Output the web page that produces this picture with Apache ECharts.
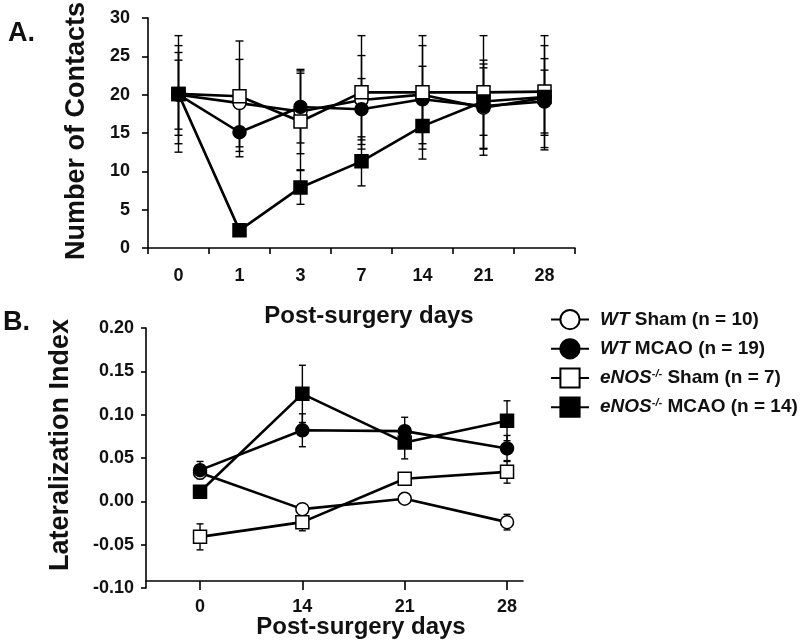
<!DOCTYPE html>
<html><head><meta charset="utf-8">
<script src="https://cdn.jsdelivr.net/npm/echarts@6/dist/echarts.min.js"></script>
<style>html,body{margin:0;padding:0;background:#fff}#c{width:800px;height:642px}</style>
</head><body><div id="c"></div>
<script>
const FONT = "'Liberation Sans', Arial, Helvetica, sans-serif";

// ---- Panel A: Number of contacts ----
const daysA = ['0', '1', '3', '7', '14', '21', '28'];
const wtShamA       = [20.0, 18.9, 17.8, 19.3, 20.0, 18.3, 19.6];
const wtShamAErr    = [6.4, 5.7, 5.5, 5.8, 6.4, 6.2, 6.8];
const wtMcaoA       = [20.0, 15.1, 18.4, 18.1, 19.4, 18.5, 19.1];
const wtMcaoAErr    = [4.5, 3.2, 4.7, 4.0, 4.3, 5.5, 4.1];
const enosShamA     = [20.1, 19.8, 16.5, 20.3, 20.3, 20.3, 20.4];
const enosShamAErr  = [7.6, 7.2, 6.3, 7.4, 7.4, 7.4, 7.3];
const enosMcaoA     = [20.1, 2.3, 7.9, 11.3, 15.9, 19.1, 19.7];
const enosMcaoAErr  = [5.4, 0.5, 2.2, 3.2, 4.3, 4.4, 5.0];
const yTicksA = { min: 0, max: 30, interval: 5 };

// ---- Panel B: Lateralization index ----
const daysB = ['0', '14', '21', '28'];
const wtShamB       = [0.033, -0.009, 0.003, -0.024];
const wtShamBErr    = [0.005, 0.004, 0.004, 0.009];
const wtMcaoB       = [0.036, 0.082, 0.081, 0.061];
const wtMcaoBErr    = [0.010, 0.019, 0.016, 0.015];
const enosShamB     = [-0.041, -0.024, 0.026, 0.034];
const enosShamBErr  = [0.015, 0.010, 0.006, 0.013];
const enosMcaoB     = [0.011, 0.124, 0.068, 0.093];
const enosMcaoBErr  = [0.004, 0.033, 0.019, 0.023];
const yTicksB = { min: -0.10, max: 0.20, interval: 0.05 };

const groupNames = ['WT Sham (n = 10)', 'WT MCAO (n = 19)', 'eNOS-/- Sham (n = 7)', 'eNOS-/- MCAO (n = 14)'];
const legendRich = {
  'WT Sham (n = 10)': '{it|WT}{t| Sham (n = 10)}',
  'WT MCAO (n = 19)': '{it|WT}{t| MCAO (n = 19)}',
  'eNOS-/- Sham (n = 7)': '{it|eNOS}{sup|-/-}{t| Sham (n = 7)}',
  'eNOS-/- MCAO (n = 14)': '{it|eNOS}{sup|-/-}{t| MCAO (n = 14)}'
};

const groupStyles = [
  { symbol: 'circle', fill: '#ffffff' },
  { symbol: 'circle', fill: '#000000' },
  { symbol: 'rect', fill: '#ffffff' },
  { symbol: 'rect', fill: '#000000' }
];
const seriesA = [[wtShamA, wtShamAErr], [wtMcaoA, wtMcaoAErr], [enosShamA, enosShamAErr], [enosMcaoA, enosMcaoAErr]];
const seriesB = [[wtShamB, wtShamBErr], [wtMcaoB, wtMcaoBErr], [enosShamB, enosShamBErr], [enosMcaoB, enosMcaoBErr]];

function makeErrRender(cap) {
  return function (params, api) {
    const x = api.value(0), y = api.value(1), e = api.value(2);
    const hi = api.coord([x, y + e]);
    const lo = api.coord([x, y - e]);
    const st = { stroke: '#000', lineWidth: 1.4 };
    return {
      type: 'group',
      children: [
        { type: 'line', shape: { x1: hi[0], y1: hi[1], x2: lo[0], y2: lo[1] }, style: st },
        { type: 'line', shape: { x1: hi[0] - cap, y1: hi[1], x2: hi[0] + cap, y2: hi[1] }, style: st },
        { type: 'line', shape: { x1: lo[0] - cap, y1: lo[1], x2: lo[0] + cap, y2: lo[1] }, style: st }
      ]
    };
  };
}

const series = [];
seriesA.forEach((s, k) => {
  series.push({
    type: 'custom', xAxisIndex: 0, yAxisIndex: 0, z: 1, silent: true,
    renderItem: makeErrRender(4),
    data: daysA.map((d, i) => [i, s[0][i], s[1][i]])
  });
});
seriesB.forEach((s, k) => {
  series.push({
    type: 'custom', xAxisIndex: 1, yAxisIndex: 1, z: 1, silent: true,
    renderItem: makeErrRender(3.5),
    data: daysB.map((d, i) => [i, s[0][i], s[1][i]])
  });
});
seriesA.forEach((s, k) => {
  series.push({
    name: groupNames[k], type: 'line', xAxisIndex: 0, yAxisIndex: 0, z: 3,
    symbol: groupStyles[k].symbol, symbolSize: 13, showAllSymbol: true,
    lineStyle: { color: '#000', width: 2.6 },
    itemStyle: { color: groupStyles[k].fill, borderColor: '#000', borderWidth: 1.5 },
    animation: false,
    data: s[0]
  });
});
seriesB.forEach((s, k) => {
  series.push({
    name: groupNames[k], type: 'line', xAxisIndex: 1, yAxisIndex: 1, z: 3,
    symbol: groupStyles[k].symbol, symbolSize: 13, showAllSymbol: true,
    lineStyle: { color: '#000', width: 2.6 },
    itemStyle: { color: groupStyles[k].fill, borderColor: '#000', borderWidth: 1.5 },
    animation: false,
    data: daysB.map((d, i) => [i, s[0][i]])
  });
});

const axisLineStyle = { color: '#000', width: 1.6 };
const labelStyle = { fontSize: 18, fontWeight: 'bold', color: '#111', fontFamily: FONT };

function txt(text, x, y, size, rot, align) {
  return {
    type: 'text', x: x, y: y, rotation: rot || 0, silent: true,
    style: {
      text: text, fill: '#111', fontSize: size, fontWeight: 'bold', fontFamily: FONT,
      align: align || 'center', verticalAlign: 'middle'
    }
  };
}

const option = {
  backgroundColor: '#fff',
  animation: false,
  grid: [
    { left: 148, top: 18, width: 427, height: 230 },
    { left: 146, top: 328, width: 377, height: 260 }
  ],
  xAxis: [
    {
      type: 'category', gridIndex: 0, data: daysA, boundaryGap: true,
      axisLine: { show: true, lineStyle: axisLineStyle },
      axisTick: { show: true, length: 6, alignWithLabel: false, lineStyle: axisLineStyle },
      axisLabel: Object.assign({ margin: 19 }, labelStyle),
      splitLine: { show: false }
    },
    {
      type: 'value', gridIndex: 1, min: -0.528, max: 3.156, offset: -7,
      axisLine: { show: true, onZero: false, lineStyle: axisLineStyle },
      axisTick: { show: true, length: 9, customValues: [0, 1, 2, 3], lineStyle: axisLineStyle },
      axisLabel: Object.assign({ margin: 17, customValues: [0, 1, 2, 3], formatter: v => daysB[Math.round(v)] }, labelStyle),
      splitLine: { show: false }
    }
  ],
  yAxis: [
    {
      type: 'value', gridIndex: 0, min: yTicksA.min, max: yTicksA.max, interval: yTicksA.interval,
      axisLine: { show: true, lineStyle: axisLineStyle },
      axisTick: { show: true, length: 6, lineStyle: axisLineStyle },
      axisLabel: Object.assign({ margin: 18 }, labelStyle),
      splitLine: { show: false }
    },
    {
      type: 'value', gridIndex: 1, min: yTicksB.min, max: yTicksB.max, interval: yTicksB.interval,
      axisLine: { show: true, onZero: false, lineStyle: axisLineStyle },
      axisTick: { show: true, length: 5, lineStyle: axisLineStyle },
      axisLabel: Object.assign({ margin: 12, formatter: v => v.toFixed(2) }, labelStyle),
      splitLine: { show: false }
    }
  ],
  legend: {
    orient: 'vertical', left: 550, top: 309, padding: 0, itemWidth: 38, itemHeight: 24, itemGap: 8,
    data: groupNames, selectedMode: false,
    formatter: name => legendRich[name],
    textStyle: {
      fontSize: 19, fontWeight: 'bold', color: '#111', fontFamily: FONT,
      rich: {
        it: { fontSize: 19, fontWeight: 'bold', fontStyle: 'italic', color: '#111', fontFamily: FONT, padding: [0, 0, 0, 6] },
        sup: { fontSize: 11, fontWeight: 'bold', fontStyle: 'italic', color: '#111', fontFamily: FONT, verticalAlign: 'top', lineHeight: 12 },
        t: { fontSize: 19, fontWeight: 'bold', color: '#111', fontFamily: FONT }
      }
    }
  },
  graphic: [
    txt('A.', 8, 34, 27, 0, 'left'),
    txt('B.', 3, 323, 27, 0, 'left'),
    txt('Number of Contacts', 77, 131, 27, Math.PI / 2),
    txt('Lateralization Index', 61, 445, 27, Math.PI / 2),
    txt('Post-surgery days', 369, 316, 24, 0),
    txt('Post-surgery days', 361, 627, 24, 0)
  ],
  series: series
};

echarts.init(document.getElementById('c'), null, { renderer: 'canvas' }).setOption(option);
</script>
</body></html>
